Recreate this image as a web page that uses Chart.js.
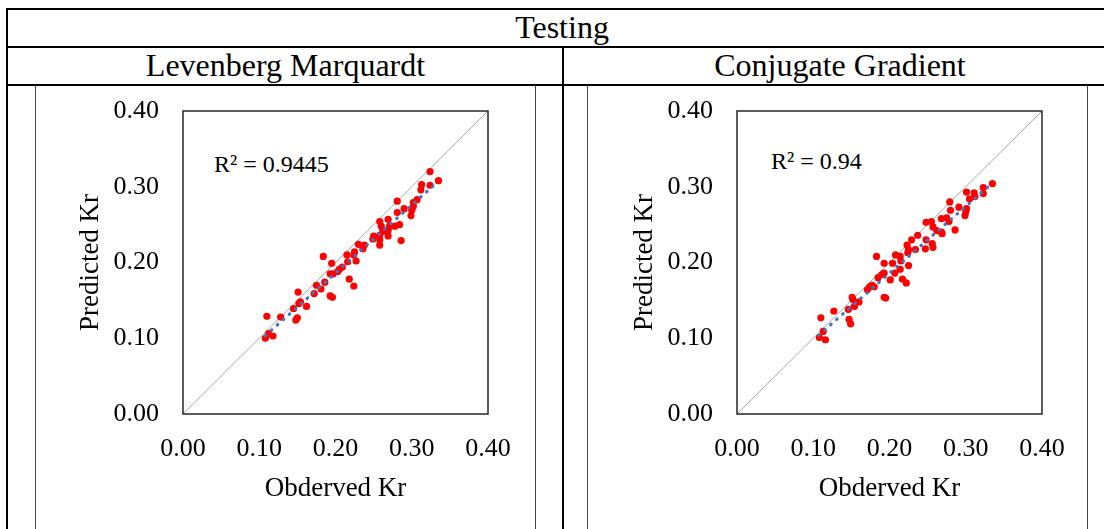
<!DOCTYPE html>
<html>
<head>
<meta charset="utf-8">
<script src="https://cdn.jsdelivr.net/npm/chart.js@4.4.1/dist/chart.umd.min.js"></script>
<style>
  body {
    margin: 0;
    width: 1104px;
    height: 529px;
    overflow: hidden;
    position: relative;
    background: #fff;
    font-family: "Liberation Serif", "Times New Roman", serif;
    color: #000;
  }
  .line { position: absolute; background: #000; }
  .frame {
    position: absolute;
    box-sizing: border-box;
    border-left: 1.5px solid #444;
    border-right: 1.5px solid #444;
    border-top: 1.5px solid #444;
  }
  .head {
    position: absolute;
    font-size: 32px;
    line-height: 38px;
    height: 38px;
    text-align: center;
    white-space: nowrap;
  }
  .r2 { position: absolute; font-size: 24px; line-height: 24px; white-space: nowrap; }
  canvas { position: absolute; }
</style>
</head>
<body>
<div class="frame" style="left:35px;top:84px;width:501px;height:445px"></div>
<div class="frame" style="left:587px;top:84px;width:501px;height:445px"></div>

<div class="line" style="left:6px;top:8px;width:1098px;height:2px"></div>
<div class="line" style="left:6px;top:46px;width:1098px;height:2px"></div>
<div class="line" style="left:6px;top:84px;width:1098px;height:2px"></div>
<div class="line" style="left:6px;top:8px;width:2px;height:521px"></div>
<div class="line" style="left:562px;top:46px;width:2px;height:483px"></div>

<div class="head" style="left:8px;width:1108px;top:8px">Testing</div>
<div class="head" style="left:8px;width:555px;top:46px">Levenberg Marquardt</div>
<div class="head" style="left:564px;width:552px;top:46px">Conjugate Gradient</div>

<div class="r2" id="lmR2" style="left:214px;top:152px"></div>
<div class="r2" id="cgR2" style="left:771px;top:149px"></div>

<canvas id="lm" width="498" height="443" style="left:37px;top:86px"></canvas>
<canvas id="cg" width="498" height="443" style="left:591px;top:86px"></canvas>

<script>
const tickLabels = ["0.00", "0.10", "0.20", "0.30", "0.40"];
const axisRange = [0, 0.4];
const xTitle = "Obderved Kr";
const yTitle = "Predicted Kr";

// Levenberg Marquardt, testing set
const lmObserved = [
  0.324, 0.335, 0.313, 0.324, 0.312, 0.281, 0.307, 0.302, 0.302, 0.300,
  0.299, 0.290, 0.281, 0.269, 0.258, 0.260, 0.271, 0.278, 0.284, 0.269,
  0.262, 0.258, 0.250, 0.249, 0.258, 0.269, 0.286, 0.258, 0.238, 0.230,
  0.236, 0.225, 0.224, 0.215, 0.227, 0.216, 0.184, 0.195, 0.209, 0.205,
  0.203, 0.193, 0.197, 0.218, 0.224, 0.186, 0.175, 0.181, 0.172, 0.151,
  0.193, 0.196, 0.154, 0.152, 0.162, 0.145, 0.128, 0.150, 0.148, 0.110,
  0.112, 0.118, 0.108,
];
const lmPredicted = [
  0.320, 0.308, 0.303, 0.302, 0.296, 0.281, 0.283, 0.279, 0.274, 0.269,
  0.262, 0.271, 0.266, 0.257, 0.254, 0.248, 0.248, 0.248, 0.250, 0.242,
  0.241, 0.236, 0.235, 0.231, 0.230, 0.235, 0.229, 0.223, 0.223, 0.224,
  0.218, 0.214, 0.210, 0.210, 0.202, 0.201, 0.208, 0.199, 0.194, 0.191,
  0.188, 0.185, 0.185, 0.178, 0.169, 0.174, 0.170, 0.165, 0.159, 0.161,
  0.156, 0.154, 0.148, 0.146, 0.142, 0.139, 0.128, 0.127, 0.124, 0.129,
  0.106, 0.103, 0.100,
];
const lmTrendX = [0.108, 0.328];
const lmTrendY = [0.1035, 0.301];
const lmR2 = "R² = 0.9445";

// Conjugate Gradient, testing set
const cgObserved = [
  0.335, 0.323, 0.323, 0.311, 0.301, 0.312, 0.305, 0.279, 0.291, 0.301,
  0.300, 0.299, 0.280, 0.275, 0.268, 0.278, 0.255, 0.248, 0.257, 0.262,
  0.268, 0.269, 0.286, 0.237, 0.229, 0.248, 0.256, 0.223, 0.225, 0.224,
  0.257, 0.247, 0.234, 0.208, 0.214, 0.215, 0.183, 0.193, 0.204, 0.225,
  0.214, 0.207, 0.193, 0.190, 0.185, 0.201, 0.217, 0.222, 0.177, 0.174,
  0.171, 0.180, 0.193, 0.195, 0.151, 0.152, 0.160, 0.154, 0.146, 0.127,
  0.147, 0.149, 0.110, 0.113, 0.108, 0.116,
];
const cgPredicted = [
  0.304, 0.299, 0.291, 0.292, 0.293, 0.287, 0.284, 0.280, 0.273, 0.271,
  0.267, 0.262, 0.269, 0.259, 0.258, 0.254, 0.254, 0.253, 0.247, 0.242,
  0.240, 0.238, 0.243, 0.236, 0.230, 0.230, 0.225, 0.223, 0.217, 0.213,
  0.220, 0.218, 0.217, 0.210, 0.208, 0.202, 0.208, 0.199, 0.199, 0.196,
  0.191, 0.186, 0.186, 0.184, 0.180, 0.177, 0.178, 0.173, 0.170, 0.168,
  0.164, 0.168, 0.154, 0.153, 0.154, 0.151, 0.148, 0.142, 0.138, 0.136,
  0.125, 0.119, 0.127, 0.109, 0.101, 0.098,
];
const cgTrendX = [0.107, 0.334];
const cgTrendY = [0.104, 0.304];
const cgR2 = "R² = 0.94";

const toPoints = (xs, ys) => xs.map((x, i) => ({ x: x, y: ys[i] }));

const plotBox = {
  id: "plotBox",
  afterDatasetsDraw(chart) {
    const { ctx, chartArea } = chart;
    ctx.save();
    ctx.strokeStyle = "#262626";
    ctx.lineWidth = 1.5;
    ctx.strokeRect(chartArea.left, chartArea.top, chartArea.width, chartArea.height);
    ctx.restore();
  },
};

const tickFont = { family: "'Liberation Serif', 'Times New Roman', serif", size: 26 };
const titleFont = { family: "'Liberation Serif', 'Times New Roman', serif", size: 27 };

const axis = (isX) => ({
  type: "linear",
  min: axisRange[0],
  max: axisRange[1],
  grid: { display: false, drawTicks: false },
  border: { display: false },
  ticks: {
    stepSize: 0.1,
    color: "#000",
    font: tickFont,
    padding: isX ? 20 : 24,
    callback: (value, index) => tickLabels[index],
  },
  title: {
    display: true,
    text: isX ? xTitle : yTitle,
    color: "#000",
    font: titleFont,
    padding: isX ? { top: 0, bottom: 24 } : { top: 38, bottom: 0 },
  },
  afterFit: (scale) => {
    if (isX) {
      scale.height = 115;
    } else {
      scale.width = 146;
      scale.paddingTop = 0;
      scale.paddingBottom = 0;
    }
  },
});

const makeChart = (id, observed, predicted, trendX, trendY) => {
  const context = document.getElementById(id).getContext("2d");
  return new Chart(context, {
    type: "scatter",
    data: {
      datasets: [
        {
          type: "line",
          data: toPoints(trendX, trendY),
          borderColor: "#4472C4",
          borderWidth: 3.2,
          borderDash: [0.6, 7.4],
          borderCapStyle: "round",
          pointRadius: 0,
          order: 0,
        },
        {
          data: toPoints(observed, predicted),
          backgroundColor: "#FF0000",
          borderWidth: 0,
          pointRadius: 3.6,
          order: 1,
        },
        {
          type: "line",
          data: toPoints(axisRange, axisRange),
          borderColor: "#A6A6A6",
          borderWidth: 1,
          pointRadius: 0,
          order: 2,
        },
      ],
    },
    options: {
      responsive: false,
      animation: false,
      devicePixelRatio: 1,
      layout: { padding: { top: 25, right: 47, left: 0, bottom: 0 } },
      plugins: { legend: { display: false }, tooltip: { enabled: false } },
      scales: { x: axis(true), y: axis(false) },
    },
    plugins: [plotBox],
  });
};

document.getElementById("lmR2").textContent = lmR2;
document.getElementById("cgR2").textContent = cgR2;
makeChart("lm", lmObserved, lmPredicted, lmTrendX, lmTrendY);
makeChart("cg", cgObserved, cgPredicted, cgTrendX, cgTrendY);
</script>
</body>
</html>
